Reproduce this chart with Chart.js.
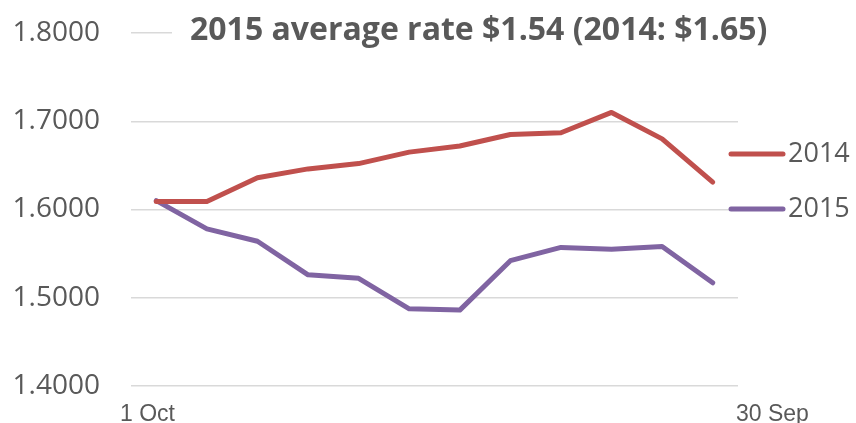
<!DOCTYPE html>
<html>
<head>
<meta charset="utf-8">
<script src="https://cdn.jsdelivr.net/npm/chart.js@4/dist/chart.umd.min.js"></script>
<style>
  html, body { margin: 0; padding: 0; background: #ffffff; }
  #wrap { width: 856px; height: 423px; position: relative; }
</style>
</head>
<body>
<div id="wrap"><canvas id="c" width="856" height="423"></canvas></div>
<script>
// ---- data ----
const categories = ['Oct', 'Nov', 'Dec', 'Jan', 'Feb', 'Mar', 'Apr', 'May', 'Jun', 'Jul', 'Aug', 'Sep'];
const series2014 = [1.609, 1.609, 1.636, 1.646, 1.652, 1.665, 1.672, 1.685, 1.687, 1.710, 1.680, 1.631];
const series2015 = [1.610, 1.578, 1.564, 1.526, 1.522, 1.4875, 1.486, 1.542, 1.557, 1.555, 1.558, 1.517];
const seriesNames = ['2014', '2015'];
const xEdgeLabels = ['1 Oct', '30 Sep'];
const titleText = '2015 average rate $1.54 (2014: $1.65)';
const yMin = 1.4, yMax = 1.8, yStep = 0.1;

const colors = ['#C0504D', '#8064A2'];
const textColor = '#595959';

const overlayPlugin = {
  id: 'overlay',
  afterDraw(chart) {
    const ctx = chart.ctx;
    const area = chart.chartArea;
    ctx.save();
    // title with white backing (covers the top gridline like the original)
    ctx.font = 'bold 32px "Open Sans"';
    const tw = ctx.measureText(titleText).width;
    const tx = 190;
    ctx.fillStyle = '#ffffff';
    ctx.fillRect(tx - 18, 14, tw + 36, 36);
    ctx.fillStyle = textColor;
    ctx.textBaseline = 'alphabetic';
    ctx.textAlign = 'left';
    ctx.fillText(titleText, tx, 40);

    // legend
    const legY = [154, 209];
    ctx.font = '27px "Open Sans"';
    chart.data.datasets.forEach((ds, i) => {
      ctx.strokeStyle = ds.borderColor;
      ctx.lineWidth = 5;
      ctx.lineCap = 'round';
      ctx.beginPath();
      ctx.moveTo(731, legY[i]);
      ctx.lineTo(783, legY[i]);
      ctx.stroke();
      ctx.fillStyle = textColor;
      ctx.textBaseline = 'middle';
      ctx.fillText(ds.label, 788, legY[i]);
    });

    // x edge labels
    ctx.font = '23px "Liberation Sans"';
    ctx.fillStyle = textColor;
    ctx.textBaseline = 'alphabetic';
    ctx.textAlign = 'left';
    ctx.fillText(xEdgeLabels[0], area.left - 11, 421);
    ctx.fillText(xEdgeLabels[1], area.right - 2, 421);
    ctx.restore();
  }
};

new Chart(document.getElementById('c'), {
  type: 'line',
  data: {
    labels: categories,
    datasets: [
      { label: seriesNames[0], data: series2014, borderColor: colors[0], backgroundColor: colors[0] },
      { label: seriesNames[1], data: series2015, borderColor: colors[1], backgroundColor: colors[1] }
    ]
  },
  options: {
    responsive: false,
    animation: false,
    devicePixelRatio: 1,
    layout: { padding: { left: 0, right: 118, top: 33, bottom: 37 } },
    elements: {
      line: { borderWidth: 5, tension: 0, borderCapStyle: 'round', borderJoinStyle: 'round' },
      point: { radius: 0, hoverRadius: 0 }
    },
    plugins: {
      legend: { display: false },
      title: { display: false },
      tooltip: { enabled: false }
    },
    scales: {
      x: {
        type: 'category',
        display: false,
        offset: true
      },
      y: {
        min: yMin,
        max: yMax,
        border: { display: false },
        grid: { color: '#D9D9D9', lineWidth: 1.5, drawTicks: false },
        ticks: {
          stepSize: yStep,
          padding: 31,
          color: textColor,
          font: { family: 'Open Sans', size: 28 },
          callback: v => Number(v).toFixed(4)
        },
        afterFit(scale) {
          scale.width = 131;
          scale.paddingTop = 0;
          scale.paddingBottom = 0;
        }
      }
    }
  },
  plugins: [overlayPlugin]
});
</script>
</body>
</html>
